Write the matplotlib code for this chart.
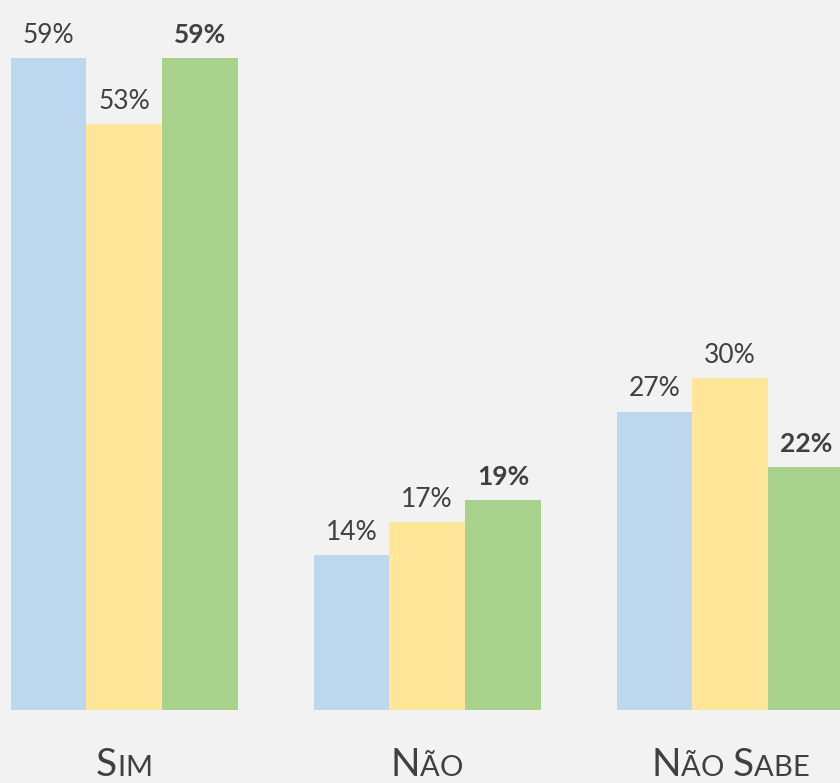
import numpy as np
import matplotlib.pyplot as plt

categorias = ["Sim", "Não", "Não Sabe"]
serie_azul = [59, 14, 27]
serie_amarela = [53, 17, 30]
serie_verde = [59, 19, 22]

cores = ["#bdd7ee", "#ffe699", "#a9d18e"]
cor_texto = "#404040"
fundo = "#f2f2f2"

plt.rcParams["font.family"] = ["Lato", "DejaVu Sans"]

fig = plt.figure(figsize=(8.4, 7.83), dpi=100, facecolor=fundo)
ax = fig.add_axes([0, 73 / 783, 1, 710 / 783])
ax.set_facecolor(fundo)

x = np.arange(len(categorias)) * 4
largura = 1.0
series = [serie_azul, serie_amarela, serie_verde]

for i, (valores, cor) in enumerate(zip(series, cores)):
    pos = x + (i - 1) * largura
    bars = ax.bar(pos, valores, width=largura, color=cor, edgecolor="none")
    negrito = i == 2
    for b, v in zip(bars, valores):
        ax.annotate(f"{v}%", (b.get_x() + b.get_width() / 2, v),
                    xytext=(0, 11), textcoords="offset points",
                    ha="center", va="baseline", fontsize=19,
                    color=cor_texto,
                    fontweight="bold" if negrito else "normal")

ax.set_xlim(-1.639, 9.45)
ax.set_ylim(0, 64.25)
ax.axis("off")


def versalete(cx, base_y, palavra, grande=28, pequeno=21):
    # letras maiusculas em tamanho cheio, minusculas como maiusculas menores
    renderer = fig.canvas.get_renderer()
    textos = []
    total = 0
    for ch in palavra:
        tam = grande if (ch.isupper() or ch == " ") else pequeno
        t = fig.text(0, base_y / 783, ch.upper(), fontsize=tam,
                     color=cor_texto, va="baseline", ha="left")
        w = tam * 0.3 if ch == " " else t.get_window_extent(renderer).width
        textos.append((t, w))
        total += w
    inicio = cx - total / 2
    for t, w in textos:
        t.set_x(inicio / 840)
        inicio += w


fig.canvas.draw()
for c, nome in zip(x, categorias):
    px = ax.transData.transform((c, 0))[0]
    versalete(px, 783 - 776, nome)

fig.savefig("out.png", dpi=100, facecolor=fundo)
